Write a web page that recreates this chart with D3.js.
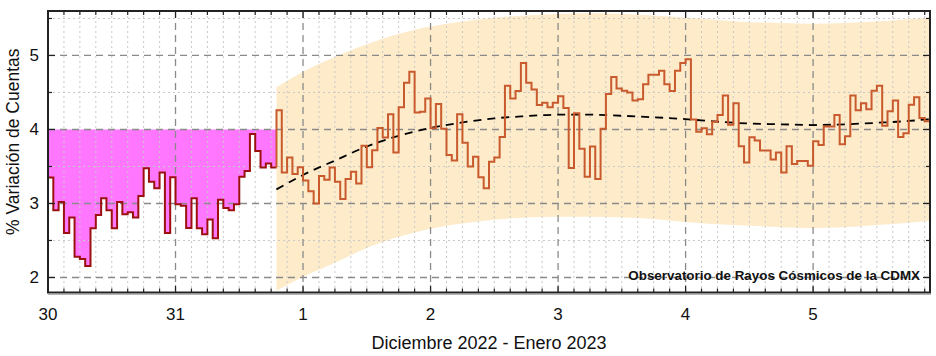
<!DOCTYPE html>
<html><head><meta charset="utf-8">
<script src="https://cdn.jsdelivr.net/npm/d3@7/dist/d3.min.js"></script>
<style>body{margin:0;background:#fff}svg{display:block}text{font-family:"Liberation Sans",Arial,sans-serif}</style>
</head><body><svg id="c" width="936" height="356"></svg>
<script>
// hourly % variation, starting 2022-12-30 00:00 UTC
const values = [
3.35,2.91,3.02,2.60,2.81,2.28,2.25,2.155,2.665,2.845,3.07,2.91,2.665,3.02,2.855,2.88,2.81,3.10,3.475,3.295,3.205,3.42,2.60,3.355,
2.99,2.97,2.67,3.07,2.665,2.585,2.785,2.53,3.05,2.94,2.91,2.99,3.36,3.44,3.94,3.71,3.485,3.54,3.485,4.26,3.42,3.62,3.40,3.49,
3.31,3.165,3.00,3.37,3.32,3.485,3.295,3.06,3.33,3.43,3.27,3.78,3.49,3.72,4.02,3.89,4.205,3.69,4.30,4.63,4.78,4.23,4.24,4.42,
4.015,4.345,4.01,3.655,3.58,4.205,3.82,3.50,3.63,3.355,3.205,3.565,3.62,3.90,4.59,4.42,4.52,4.90,4.63,4.54,4.33,4.36,4.30,4.36,
4.45,4.29,3.48,4.22,3.74,3.36,3.77,3.33,4.01,4.48,4.71,4.555,4.525,4.50,4.39,4.41,4.61,4.74,4.74,4.795,4.61,4.52,4.795,4.90,
4.95,4.135,3.97,4.015,3.935,4.105,4.195,4.46,4.065,4.355,3.775,3.555,3.895,3.85,3.715,3.715,3.595,3.69,3.42,3.775,3.535,3.575,3.575,3.51,
3.84,3.79,4.04,4.04,4.195,3.80,3.91,4.46,4.26,4.355,4.275,4.525,4.59,4.05,4.245,4.39,3.90,3.95,4.335,4.435,4.155,4.11
];
const splitHour = 43;      // first hour of the recent segment
const fillLevel = 4;       // reference level of the magenta fill
// trend and band (hours since start)
const bandHours = [43,48,54,60,66,72,78,84,90,96,102,108,114,120,126,132,138,144,150,156,162,166];
const trend = [3.19,3.385,3.58,3.77,3.915,4.02,4.095,4.15,4.18,4.20,4.20,4.185,4.165,4.14,4.105,4.08,4.07,4.06,4.07,4.09,4.115,4.14];
const upper = [4.57,4.78,4.98,5.15,5.29,5.39,5.46,5.51,5.54,5.56,5.57,5.56,5.54,5.51,5.48,5.45,5.44,5.43,5.44,5.46,5.49,5.51];
const lower = [1.82,2.01,2.20,2.40,2.55,2.66,2.73,2.78,2.81,2.82,2.82,2.81,2.79,2.75,2.72,2.70,2.68,2.67,2.68,2.71,2.74,2.77];
const dayLabels = ["30","31","1","2","3","4","5"];
const yTicks = [2,3,4,5];
const yTitle = "% Variación de Cuentas";
const xTitle = "Diciembre 2022 - Enero 2023";
const note = "Observatorio de Rayos Cósmicos de la CDMX";

const t0 = Date.UTC(2022,11,30);
const H = 3600e3;
const hdate = h => new Date(t0 + h*H);
const nH = values.length;

const L=48,R=930,T=11,B=292.5;
const x = d3.scaleUtc().domain([hdate(0), hdate(nH)]).range([L,R]);
const y = d3.scaleLinear().domain([1.797,5.601]).range([B,T]);

const svg = d3.select("#c");
const g = svg.append("g");
svg.append("defs").append("clipPath").attr("id","pc").append("rect")
  .attr("x",L).attr("y",T).attr("width",R-L).attr("height",B-T);
const plot = g.append("g").attr("clip-path","url(#pc)");

// band
const band = bandHours.map((h,i)=>({h, u:upper[i], l:lower[i], t:trend[i]}));
plot.append("path").datum(band)
  .attr("d", d3.area().x(d=>x(hdate(d.h))).y0(d=>y(d.l)).y1(d=>y(d.u)).curve(d3.curveMonotoneX))
  .attr("fill","#fdebc9");

// magenta fill
const past = values.slice(0,splitHour).map((v,i)=>({h:i,v}));
past.push({h:splitHour, v:values[splitHour-1]});
plot.append("path").datum(past)
  .attr("d", d3.area().x(d=>x(hdate(d.h))).y0(y(fillLevel)).y1(d=>y(d.v)).curve(d3.curveStepAfter))
  .attr("fill","#ff77ff");

// grid
const minorX = d3.utcHour.every(3).range(hdate(0), hdate(nH));
const majorX = d3.utcDay.range(hdate(0), hdate(nH));
const minorY = d3.range(2.5,5.6,1);
plot.selectAll(".mgx").data(minorX.filter(d=>d.getUTCHours()!==0)).join("line")
  .attr("x1",d=>x(d)).attr("x2",d=>x(d)).attr("y1",T).attr("y2",B)
  .attr("stroke","#c8c8c8").attr("stroke-width",1).attr("stroke-dasharray","2,3");
plot.selectAll(".mgy").data(minorY).join("line")
  .attr("x1",L).attr("x2",R).attr("y1",d=>y(d)).attr("y2",d=>y(d))
  .attr("stroke","#c8c8c8").attr("stroke-width",1).attr("stroke-dasharray","2,3");
plot.selectAll(".gx").data(majorX).join("line")
  .attr("x1",d=>x(d)).attr("x2",d=>x(d)).attr("y1",T).attr("y2",B)
  .attr("stroke","#8a8a8a").attr("stroke-width",1.3).attr("stroke-dasharray","7,5");
plot.selectAll(".gy").data(yTicks).join("line")
  .attr("x1",L).attr("x2",R).attr("y1",d=>y(d)).attr("y2",d=>y(d))
  .attr("stroke","#8a8a8a").attr("stroke-width",1.3).attr("stroke-dasharray","7,5");

// trend
plot.append("path").datum(band)
  .attr("d", d3.line().x(d=>x(hdate(d.h))).y(d=>y(d.t)).curve(d3.curveMonotoneX))
  .attr("fill","none").attr("stroke","#000").attr("stroke-width",1.8).attr("stroke-dasharray","8,6");

// step lines
const line = d3.line().x(d=>x(hdate(d.h))).y(d=>y(d.v)).curve(d3.curveStepAfter);
plot.append("path").datum(past).attr("d",line)
  .attr("fill","none").attr("stroke","#9c1010").attr("stroke-width",2);
const recent = [{h:splitHour, v:values[splitHour-1]}].concat(values.slice(splitHour).map((v,i)=>({h:splitHour+i,v})));
recent.push({h:nH, v:values[nH-1]});
plot.append("path").datum(recent).attr("d",line)
  .attr("fill","none").attr("stroke","#c85a2e").attr("stroke-width",2);

// axes (inside ticks)
const ax = g.append("g");
minorX.forEach(d=>{
  const maj = d.getUTCHours()===0, len = maj?7:4;
  ax.append("line").attr("x1",x(d)).attr("x2",x(d)).attr("y1",B).attr("y2",B-len).attr("stroke","#222").attr("stroke-width",1.2);
  ax.append("line").attr("x1",x(d)).attr("x2",x(d)).attr("y1",T).attr("y2",T+len).attr("stroke","#222").attr("stroke-width",1.2);
});
d3.range(2,5.6,0.5).forEach(v=>{
  const maj = Number.isInteger(v), len = maj?7:4;
  ax.append("line").attr("x1",L).attr("x2",L+len).attr("y1",y(v)).attr("y2",y(v)).attr("stroke","#222").attr("stroke-width",1.2);
  ax.append("line").attr("x1",R).attr("x2",R-len).attr("y1",y(v)).attr("y2",y(v)).attr("stroke","#222").attr("stroke-width",1.2);
});
// frame
g.append("line").attr("x1",L).attr("x2",R+1).attr("y1",B+2).attr("y2",B+2).attr("stroke","#b5b5b5").attr("stroke-width",1);
g.append("rect").attr("x",L).attr("y",T).attr("width",R-L).attr("height",B-T)
  .attr("fill","none").attr("stroke","#222").attr("stroke-width",2);

// labels
g.selectAll(".xl").data(majorX).join("text")
  .attr("x",d=>x(d)).attr("y",320).attr("text-anchor","middle").attr("font-size",17).attr("fill","#111")
  .text((d,i)=>dayLabels[i]);
g.selectAll(".yl").data(yTicks).join("text")
  .attr("x",39).attr("y",d=>y(d)+6).attr("text-anchor","end").attr("font-size",17).attr("fill","#111")
  .text(d=>d);
g.append("text").attr("transform","translate(19,"+((T+B)/2-10)+") rotate(-90)")
  .attr("text-anchor","middle").attr("font-size",17.5).attr("fill","#111").text(yTitle);
g.append("text").attr("x",(L+R)/2).attr("y",349).attr("text-anchor","middle")
  .attr("font-size",18).attr("fill","#111").text(xTitle);
g.append("text").attr("x",920).attr("y",280).attr("text-anchor","end")
  .attr("font-size",13.4).attr("font-weight","bold").attr("fill","#111").text(note);
</script></body></html>
